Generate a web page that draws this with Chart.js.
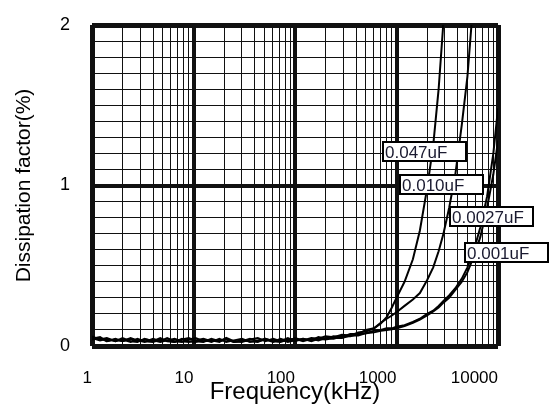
<!DOCTYPE html>
<html>
<head>
<meta charset="utf-8">
<script src="https://cdn.jsdelivr.net/npm/chart.js@4.4.0/dist/chart.umd.min.js"></script>
<style>
  html, body { margin: 0; padding: 0; background: #fff; }
</style>
</head>
<body>
<canvas id="chart" width="550" height="408"></canvas>
<script>
// Frequency points (kHz) shared by all four curves
const freqs = [1, 1.2, 1.4, 1.7, 2, 2.4, 2.8, 3.3, 4, 4.7,
  5.5, 6.5, 7.7, 9, 10.5, 12.5, 15, 18, 21, 25,
  30, 36, 43, 51, 61, 72, 85, 100, 120, 145,
  170, 200, 240, 290, 350, 420, 500, 600, 700, 800,
  900, 1000, 1200, 1450, 1700, 2000, 2300, 2600, 2900, 3300,
  3800, 4400, 5000, 5800, 6700, 7800, 9000, 10000];

// Dissipation factor (%)
const df047 = [0.06, 0.04, 0.05, 0.03, 0.05, 0.03, 0.025, 0.045, 0.03, 0.05,
  0.03, 0.025, 0.04, 0.05, 0.03, 0.025, 0.045, 0.03, 0.04, 0.025,
  0.03, 0.045, 0.03, 0.04, 0.025, 0.045, 0.03, 0.05, 0.035, 0.05,
  0.045, 0.06, 0.055, 0.07, 0.065, 0.085, 0.09, 0.11, 0.14, 0.18,
  0.24, 0.30, 0.40, 0.54, 0.72, 0.98, 1.25, 1.6, 2.02, 2.6,
  null, null, null, null, null, null, null, null];
const df010 = [0.045, 0.055, 0.03, 0.045, 0.03, 0.05, 0.035, 0.025, 0.045, 0.03,
  0.05, 0.03, 0.025, 0.04, 0.05, 0.03, 0.035, 0.025, 0.05, 0.03,
  0.025, 0.04, 0.05, 0.03, 0.045, 0.03, 0.05, 0.03, 0.045, 0.035,
  0.055, 0.045, 0.06, 0.055, 0.075, 0.075, 0.1, 0.11, 0.145, 0.17,
  0.19, 0.21, 0.25, 0.29, 0.33, 0.41, 0.49, 0.59, 0.70, 0.86,
  1.07, 1.38, 1.68, 2.2, null, null, null, null];
const df0027 = [0.05, 0.035, 0.045, 0.03, 0.04, 0.025, 0.045, 0.03, 0.025, 0.04,
  0.035, 0.025, 0.045, 0.03, 0.025, 0.04, 0.025, 0.045, 0.025, 0.035,
  0.045, 0.025, 0.035, 0.045, 0.03, 0.025, 0.04, 0.045, 0.03, 0.045,
  0.035, 0.05, 0.045, 0.06, 0.06, 0.075, 0.08, 0.095, 0.10, 0.11,
  0.11, 0.12, 0.13, 0.15, 0.17, 0.20, 0.22, 0.25, 0.28, 0.315,
  0.36, 0.42, 0.49, 0.60, 0.74, 0.93, 1.2, 1.48];
const df001 = [0.04, 0.05, 0.03, 0.04, 0.03, 0.045, 0.03, 0.04, 0.035, 0.025,
  0.035, 0.045, 0.03, 0.025, 0.035, 0.045, 0.03, 0.035, 0.045, 0.025,
  0.035, 0.03, 0.025, 0.045, 0.03, 0.04, 0.025, 0.035, 0.045, 0.03,
  0.045, 0.04, 0.05, 0.05, 0.065, 0.065, 0.08, 0.085, 0.095, 0.10,
  0.105, 0.11, 0.125, 0.145, 0.165, 0.19, 0.215, 0.24, 0.27, 0.30,
  0.35, 0.40, 0.46, 0.56, 0.68, 0.86, 1.07, 1.28];

// Tick labels
const xTickLabels = ['1', '10', '100', '1000', '10000'];
const yTickLabels = ['0', '1', '2'];

// Curve labels: text, and where the box's top-left corner sits (kHz, %)
const labelTexts = ['0.047uF', '0.010uF', '0.0027uF', '0.001uF'];
const labelFreqs = [736, 1083, 3366, 4730];
const labelValues = [1.27, 1.065, 0.866, 0.642];

// grid lines at 1..9 of every decade
const xGrid = [];
xTickLabels.forEach((t, i) => {
  const d = Number(t);
  if (i === xTickLabels.length - 1) { xGrid.push(d); return; }
  for (let k = 1; k < 10; k++) xGrid.push(d * k);
});

const isDecade = v => Math.abs(Math.log10(v) - Math.round(Math.log10(v))) < 1e-9;
const isWhole = v => Math.abs(v - Math.round(v)) < 1e-6;

function toPoints(values) {
  return freqs.map((f, i) => ({ x: f, y: values[i] }));
}

const series = [df047, df010, df0027, df001];

// Draws the boxed curve labels
const boxLabels = {
  id: 'boxLabels',
  afterDatasetsDraw(chart) {
    const { ctx, scales: { x, y } } = chart;
    ctx.save();
    ctx.font = '17px "Liberation Sans", Arial, sans-serif';
    ctx.textBaseline = 'middle';
    labelTexts.forEach((text, i) => {
      const left = Math.round(x.getPixelForValue(labelFreqs[i]));
      const top = Math.round(y.getPixelForValue(labelValues[i]));
      ctx.fillStyle = '#fff';
      ctx.fillRect(left, top, 83, 19);
      ctx.lineWidth = 2;
      ctx.strokeStyle = '#000';
      ctx.strokeRect(left, top, 83, 19);
      ctx.fillStyle = '#1a1a30';
      ctx.fillText(text, left + 2, top + 11);
    });
    ctx.restore();
  }
};

const ctx = document.getElementById('chart').getContext('2d');
new Chart(ctx, {
  type: 'line',
  data: {
    datasets: series.map(values => ({
      data: toPoints(values),
      borderColor: '#000',
      borderWidth: 2,
      pointRadius: 0,
      tension: 0,
      fill: false
    }))
  },
  options: {
    responsive: false,
    animation: false,
    layout: { padding: { left: 0, right: 52, top: 25, bottom: 0 } },
    plugins: { legend: { display: false }, tooltip: { enabled: false } },
    scales: {
      x: {
        type: 'logarithmic',
        min: 1,
        max: 10000,
        afterBuildTicks: scale => { scale.ticks = xGrid.map(v => ({ value: v })); },
        afterFit: scale => { scale.height = 62; },
        border: { display: false },
        grid: {
          drawTicks: false,
          color: '#111',
          lineWidth: c => {
            const v = c.tick.value;
            if (v === 1 || v === 10000) return 5;
            return isDecade(v) ? 4 : 1;
          }
        },
        ticks: {
          autoSkip: false,
          maxRotation: 0,
          align: 'end',
          padding: 22,
          color: '#000',
          font: { family: '"Liberation Sans", Arial, sans-serif', size: 17 },
          callback: v => {
            const i = xTickLabels.indexOf(String(v));
            return i >= 0 ? xTickLabels[i] : '';
          }
        },
        title: {
          display: true,
          text: 'Frequency(kHz)',
          color: '#000',
          padding: { top: 0, bottom: 1 },
          font: { family: '"Liberation Sans", Arial, sans-serif', size: 24 }
        }
      },
      y: {
        min: 0,
        max: 2,
        afterFit: scale => {
          scale.width = 92;
          scale.paddingTop = 0;
          scale.paddingBottom = 0;
        },
        border: { display: false },
        grid: {
          drawTicks: false,
          color: '#111',
          lineWidth: c => {
            const v = c.tick.value;
            if (isWhole(v)) return (Math.round(v) === 1) ? 4 : 5;
            return 1;
          }
        },
        ticks: {
          stepSize: 0.1,
          autoSkip: false,
          padding: 22,
          color: '#000',
          font: { family: '"Liberation Sans", Arial, sans-serif', size: 18 },
          callback: v => {
            if (!isWhole(v)) return '';
            const i = yTickLabels.indexOf(String(Math.round(v)));
            return i >= 0 ? yTickLabels[i] : '';
          }
        },
        title: {
          display: true,
          text: 'Dissipation factor(%)',
          color: '#000',
          padding: { top: 12, bottom: 0 },
          font: { family: '"Liberation Sans", Arial, sans-serif', size: 21 }
        }
      }
    }
  },
  plugins: [boxLabels]
});
</script>
</body>
</html>
